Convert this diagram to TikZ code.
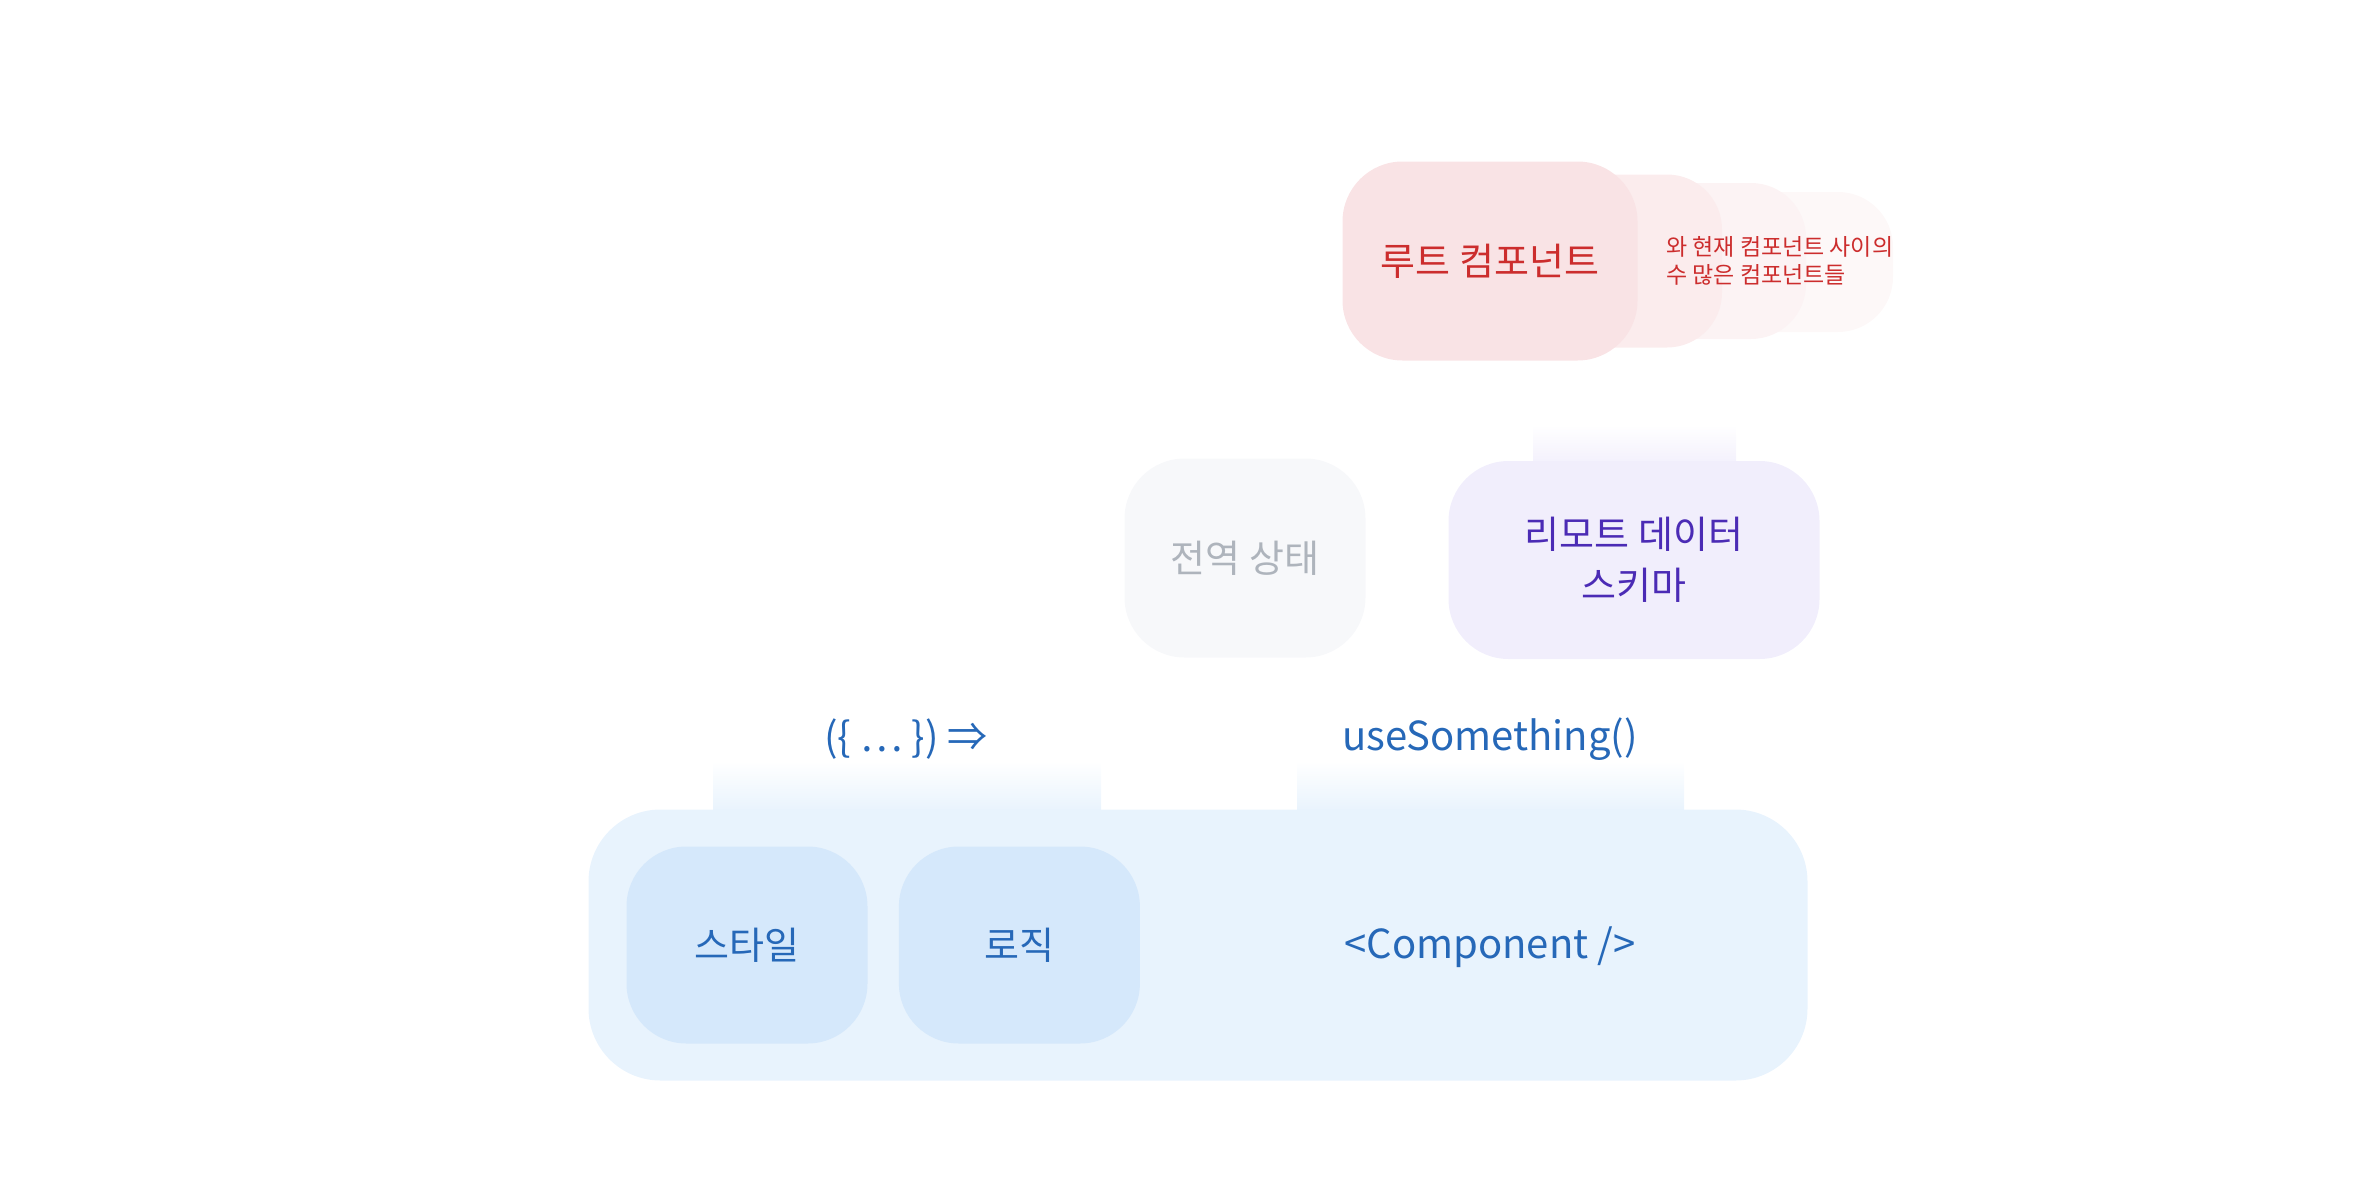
\documentclass[tikz,border=0pt]{standalone}
\usepackage{fontspec}
\setmainfont{Noto Sans CJK KR}
\usetikzlibrary{positioning}
\definecolor{rootRed}{RGB}{204,45,45}
\definecolor{rootFill}{RGB}{249,227,229}
\definecolor{ghostA}{RGB}{251,236,237}
\definecolor{ghostB}{RGB}{252,243,244}
\definecolor{ghostC}{RGB}{253,248,248}
\definecolor{stateGray}{RGB}{174,180,188}
\definecolor{stateFill}{RGB}{247,248,250}
\definecolor{remotePurple}{RGB}{75,43,181}
\definecolor{remoteFill}{RGB}{241,238,252}
\definecolor{compBlue}{RGB}{38,104,184}
\definecolor{compFill}{RGB}{232,243,253}
\definecolor{partFill}{RGB}{213,232,251}

\begin{document}
\begin{tikzpicture}[
  x=1pt, y=-1pt,
  box/.style={rounded corners=60pt, inner sep=0pt, align=center, minimum width=241pt, minimum height=197pt, font=\fontsize{38}{51}\selectfont},
  ghost/.style={rounded corners=55pt, inner sep=0pt},
  label/.style={inner sep=0pt, text=compBlue, font=\fontsize{40}{44}\selectfont}
]
\useasboundingbox (0,0) rectangle (2364,1186);

% fades under the labels
\shade[top color=white, bottom color=compFill] (713,761) rectangle (1101,812);
\shade[top color=white, bottom color=compFill] (1297,761) rectangle (1684,812);
\shade[top color=white, bottom color=remoteFill] (1533,425) rectangle (1736,470);

% root and the many components in between
\node[ghost, fill=ghostC, minimum width=210pt, minimum height=140pt] (ghostThree) at (1788,262) {};
\node[ghost, fill=ghostB, minimum width=230pt, minimum height=156pt] (ghostTwo) at (1691,261) {};
\node[ghost, fill=ghostA, minimum width=250pt, minimum height=173pt] (ghostOne) at (1597,261) {};
\node[box, fill=rootFill, text=rootRed, minimum width=295pt, minimum height=199pt] (root) at (1490,261) {루트 컴포넌트};
\node[anchor=west, align=left, inner sep=0pt, text=rootRed, font=\fontsize{23}{28}\selectfont] (between) at (1666,261) {와 현재 컴포넌트 사이의\\수 많은 컴포넌트들};

% global state and remote schema
\node[box, fill=stateFill, text=stateGray, minimum height=199pt] (global) at (1245,558) {전역 상태};
\node[box, fill=remoteFill, text=remotePurple, minimum width=371pt, minimum height=198pt] (remote) at (1634,560) {리모트 데이터\\스키마};

% the component
\node[rounded corners=72pt, fill=compFill, minimum width=1219pt, minimum height=271pt] (component) at (1198,945) {};
\node[box, fill=partFill, text=compBlue] (style) at (747,945) {스타일};
\node[box, fill=partFill, text=compBlue, right=31pt of style] (logic) {로직};
\node[label] (compName) at (1490,947) {<Component />};
\node[label] (props) at (906,739) {(\{ … \}) ⇒};
\node[label] (hook) at (1490,739) {useSomething()};
\end{tikzpicture}
\end{document}
